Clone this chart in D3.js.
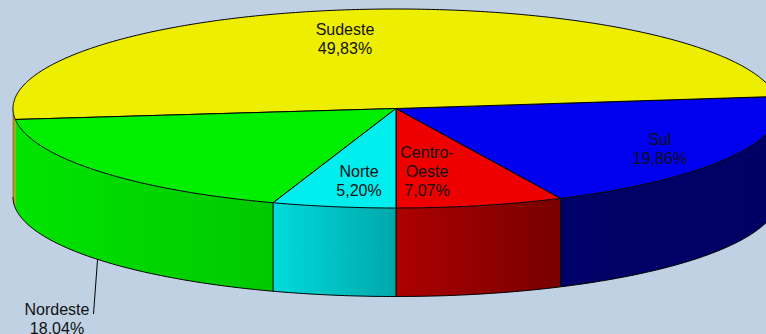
<!DOCTYPE html>
<html>
<head>
<meta charset="utf-8">
<script src="https://cdn.jsdelivr.net/npm/d3@7"></script>
<style>
  html, body { margin: 0; padding: 0; background: #bfd1e3; overflow: hidden; }
  svg { display: block; }
  text { font-family: "Liberation Sans", Arial, sans-serif; font-size: 16px; fill: #111; text-anchor: middle; }
</style>
</head>
<body>
<svg width="766" height="334"></svg>
<script>
// shares run counter-clockwise from the bottom of the pie
var regions = ['Centro-Oeste', 'Sul', 'Sudeste', 'Nordeste', 'Norte'];
var shares = [7.07, 19.86, 49.83, 18.04, 5.20];
var shareLabels = ['7,07%', '19,86%', '49,83%', '18,04%', '5,20%'];

var topColors = ['#ee0000', '#0000ee', '#eeee00', '#00ee00', '#00eeee'];
var wallLeft = ['#ac0000', '#000068', '#e09000', '#00e400', '#00dadc'];
var wallRight = ['#780000', '#000064', '#e09000', '#00c800', '#00a8aa'];

var cx = 396, cy = 108.5, rx = 383, ry = 99.5, depth = 88.5;

var svg = d3.select('svg');

var x = d3.scaleLinear().domain([-1, 1]).range([cx - rx, cx + rx]);
var y = d3.scaleLinear().domain([-1, 1]).range([cy + ry, cy - ry]);

var slices = d3.pie().sort(null).startAngle(0).endAngle(2 * Math.PI)(shares);

var line = d3.line();

// a point on the rim: angle 0 is straight down, growing towards the right
var rim = function(a, drop){
  return [x(Math.sin(a)), y(-Math.cos(a)) + drop];
};

var arcAngles = function(a0, a1){
  var n = Math.max(2, Math.ceil((a1 - a0) / 0.01));
  return d3.range(n + 1).map(function(i){ return a0 + (a1 - a0) * i / n; });
};

// only the front half of the wall can be seen
var frontParts = function(d){
  var parts = [];
  var q1 = [Math.max(d.startAngle, 0), Math.min(d.endAngle, Math.PI / 2)];
  var q2 = [Math.max(d.startAngle, 1.5 * Math.PI), Math.min(d.endAngle, 2 * Math.PI)];
  if (q1[0] < q1[1]) parts.push(q1);
  if (q2[0] < q2[1]) parts.push(q2);
  return parts;
};

var defs = svg.append('defs');

var walls = [];
slices.forEach(function(d, i){
  frontParts(d).forEach(function(p){
    walls.push({i: i, a0: p[0], a1: p[1]});
  });
});

walls.forEach(function(w){
  var xs = [rim(w.a0, 0)[0], rim(w.a1, 0)[0]];
  var g = defs.append('linearGradient')
    .attr('id', 'wall' + w.i)
    .attr('gradientUnits', 'userSpaceOnUse')
    .attr('x1', d3.min(xs)).attr('x2', d3.max(xs))
    .attr('y1', 0).attr('y2', 0);
  g.append('stop').attr('offset', 0).attr('stop-color', wallLeft[w.i]);
  g.append('stop').attr('offset', 1).attr('stop-color', wallRight[w.i]);
});

svg.selectAll('path.wall')
  .data(walls)
  .enter()
  .append('path')
    .attr('class', 'wall')
    .attr('d', function(w){
      var angles = arcAngles(w.a0, w.a1);
      var upper = angles.map(function(a){ return rim(a, 0); });
      var lower = angles.slice().reverse().map(function(a){ return rim(a, depth); });
      return line(upper.concat(lower)) + 'Z';
    })
    .attr('fill', function(w){ return 'url(#wall' + w.i + ')'; });

// bottom edge of the wall, from the far left round to the far right
svg.append('path')
  .attr('d', line(arcAngles(-Math.PI / 2, Math.PI / 2).map(function(a){ return rim(a, depth); })))
  .attr('fill', 'none')
  .attr('stroke', '#000')
  .attr('stroke-width', 1);

// seams between walls; the Sudeste/Nordeste one does not show in the picture
var seams = [slices[0].startAngle, slices[1].startAngle, slices[4].startAngle];
svg.selectAll('line.seam')
  .data(seams)
  .enter()
  .append('line')
    .attr('class', 'seam')
    .attr('x1', function(a){ return rim(a, 0)[0]; })
    .attr('y1', function(a){ return rim(a, 0)[1]; })
    .attr('x2', function(a){ return rim(a, depth)[0]; })
    .attr('y2', function(a){ return rim(a, depth)[1]; })
    .attr('stroke', '#000')
    .attr('stroke-width', 1);

// faint outline on the far left of the orange strip
svg.append('line')
  .attr('x1', rim(1.5 * Math.PI, 0)[0]).attr('y1', rim(1.5 * Math.PI, 0)[1])
  .attr('x2', rim(1.5 * Math.PI, depth)[0]).attr('y2', rim(1.5 * Math.PI, depth)[1])
  .attr('stroke', '#000')
  .attr('stroke-opacity', 0.35)
  .attr('stroke-width', 1);

svg.selectAll('path.top')
  .data(slices)
  .enter()
  .append('path')
    .attr('class', 'top')
    .attr('d', function(d){
      var pts = arcAngles(d.startAngle, d.endAngle).map(function(a){ return rim(a, 0); });
      return line([[x(0), y(0)]].concat(pts)) + 'Z';
    })
    .attr('fill', function(d, i){ return topColors[i]; })
    .attr('stroke', '#000')
    .attr('stroke-width', 1)
    .attr('stroke-linejoin', 'round');

// Nordeste sits outside the pie, on a leader line from the middle of its wall
var leaderStart = rim((slices[3].startAngle + slices[3].endAngle) / 2, depth);
svg.append('line')
  .attr('x1', leaderStart[0]).attr('y1', leaderStart[1])
  .attr('x2', 93.5).attr('y2', 314)
  .attr('stroke', '#000')
  .attr('stroke-width', 1);

var labelPlaces = [
  {x: 427, y: 158, lines: ['Centro-', 'Oeste']},
  {x: 660, y: 145, lines: ['Sul']},
  {x: 345, y: 35, lines: ['Sudeste']},
  {x: 57, y: 315, lines: ['Nordeste']},
  {x: 359, y: 177, lines: ['Norte']}
];

var labels = svg.selectAll('text')
  .data(labelPlaces)
  .enter()
  .append('text')
    .attr('x', function(d){ return d.x; })
    .attr('y', function(d){ return d.y; });

labels.each(function(d, i){
  var rows = d.lines.concat(shareLabels[i]);
  d3.select(this).selectAll('tspan')
    .data(rows)
    .enter()
    .append('tspan')
      .attr('x', d.x)
      .attr('dy', function(r, j){ return j === 0 ? 0 : 19.2; })
      .text(function(r){ return r; });
});
</script>
</body>
</html>
